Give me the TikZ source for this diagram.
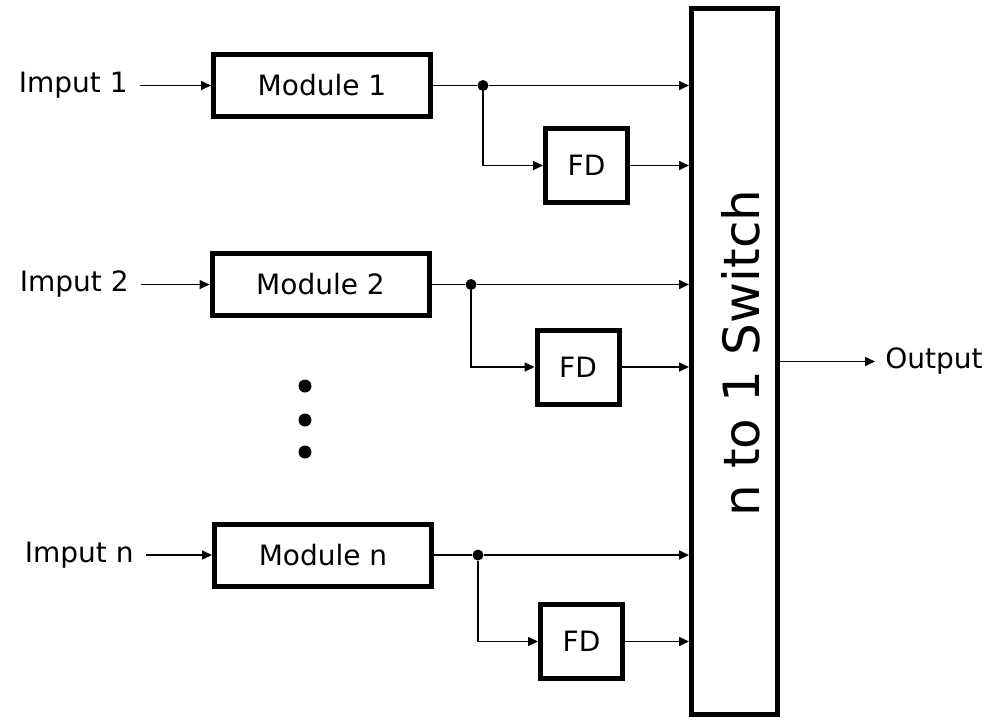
\documentclass[tikz,border=0pt]{standalone}
\usepackage{fontspec}
\setmainfont{DejaVu Sans}
\usetikzlibrary{arrows.meta, positioning}

\tikzset{
  block/.style={draw, line width=2.5pt, minimum width=108.5pt, minimum height=31pt, font=\fontsize{14}{17}\selectfont},
  fdbox/.style={draw, line width=2.5pt, minimum width=41pt, minimum height=37pt, font=\fontsize{14}{17}\selectfont},
  switchbox/.style={draw, line width=2.5pt, minimum width=43pt, minimum height=353pt},
  switchtext/.style={rotate=90, font=\fontsize{25}{30}\selectfont},
  lbl/.style={inner xsep=6pt, font=\fontsize{14}{17}\selectfont},
  sig/.style={line width=0.8pt, -{Triangle[length=5pt, width=4.5pt]}},
  wire/.style={line width=0.8pt},
  junc/.style={circle, fill, inner sep=0pt, minimum size=5.5pt},
  vdot/.style={circle, fill, inner sep=0pt, minimum size=6.5pt}
}

\begin{document}
\begin{tikzpicture}[x=0.5pt, y=-0.5pt]
    \useasboundingbox (0,0) rectangle (992,720);
    \node[switchbox] (sw) at (734.5,361.5) {};
    \node[switchtext] (swtxt) at (741,353) {n to 1 Switch};

    \node[block] (mod1) at (322,85.5) {Module 1};
    \node[lbl, anchor=east] (in1) at (140,85.5) {Imput 1};
    \node[junc] (j1) at (483,85.5) {};
    \node[fdbox] (fd1) at (586.5,165.5) {FD};
    \draw[sig] (in1.east) -- (mod1);
    \draw[wire] (mod1) -- (j1);
    \draw[sig] (j1) -- (j1 -| sw.west);
    \draw[sig] (j1) |- (fd1);
    \draw[sig] (fd1) -- (fd1 -| sw.west);

    \node[block] (mod2) at (320.5,284.5) {Module 2};
    \node[lbl, anchor=east] (in2) at (141,284.5) {Imput 2};
    \node[junc] (j2) at (471,284.5) {};
    \node[fdbox] (fd2) at (578,367) {FD};
    \draw[sig] (in2.east) -- (mod2);
    \draw[wire] (mod2) -- (j2);
    \draw[sig] (j2) -- (j2 -| sw.west);
    \draw[sig] (j2) |- (fd2);
    \draw[sig] (fd2) -- (fd2 -| sw.west);

    \node[vdot] (dot1) at (305,386) {};
    \node[vdot] (dot2) at (305,420) {};
    \node[vdot] (dot3) at (305,452) {};

    \node[block] (modn) at (323,555) {Module n};
    \node[lbl, anchor=east] (inn) at (146,555) {Imput n};
    \node[junc] (jn) at (478,555) {};
    \node[fdbox] (fdn) at (581.5,641.5) {FD};
    \draw[sig] (inn.east) -- (modn);
    \draw[wire] (modn) -- (jn);
    \draw[sig] (jn) -- (jn -| sw.west);
    \draw[sig] (jn) |- (fdn);
    \draw[sig] (fdn) -- (fdn -| sw.west);

    \node[lbl, anchor=west, inner xsep=5pt] (out) at (875,361.5) {Output};
    \draw[sig] (sw.east |- out.west) -- (out.west);
\end{tikzpicture}
\end{document}
